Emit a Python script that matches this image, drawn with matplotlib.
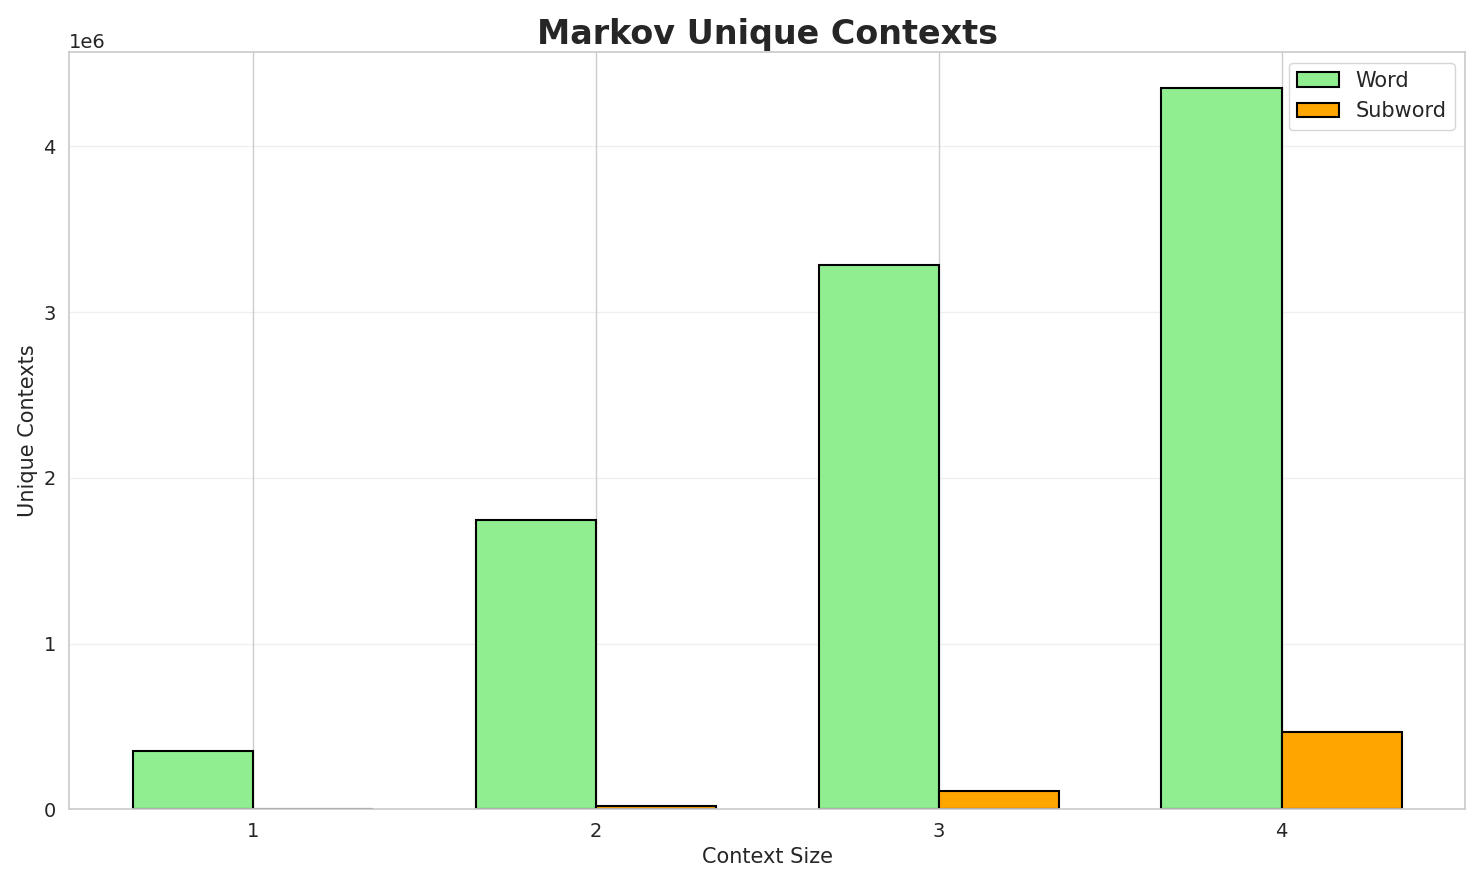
import numpy as np
import matplotlib
matplotlib.use("Agg")
import matplotlib.pyplot as plt
import seaborn as sns

sns.set_theme(style="whitegrid")

context_sizes = [1, 2, 3, 4]
word_contexts = [354000, 1748000, 3285000, 4350000]
subword_contexts = [3000, 20000, 108000, 465000]

x = np.arange(len(context_sizes))
width = 0.35

fig, ax = plt.subplots(figsize=(14.83, 8.85), dpi=100)
ax.bar(x - width / 2, word_contexts, width, label="Word", color="lightgreen",
       edgecolor="black", linewidth=1.5)
ax.bar(x + width / 2, subword_contexts, width, label="Subword", color="orange",
       edgecolor="black", linewidth=1.5)

ax.set_xticks(x)
ax.set_xticklabels([str(c) for c in context_sizes])
ax.set_xlabel("Context Size", fontsize=15)
ax.set_ylabel("Unique Contexts", fontsize=15)
ax.set_title("Markov Unique Contexts", fontsize=24, fontweight="bold")
ax.tick_params(labelsize=14)
ax.yaxis.get_offset_text().set_fontsize(14)
ax.grid(axis="y", alpha=0.3)
ax.legend(fontsize=15, loc="upper right")

plt.tight_layout()
plt.savefig("out.png")
